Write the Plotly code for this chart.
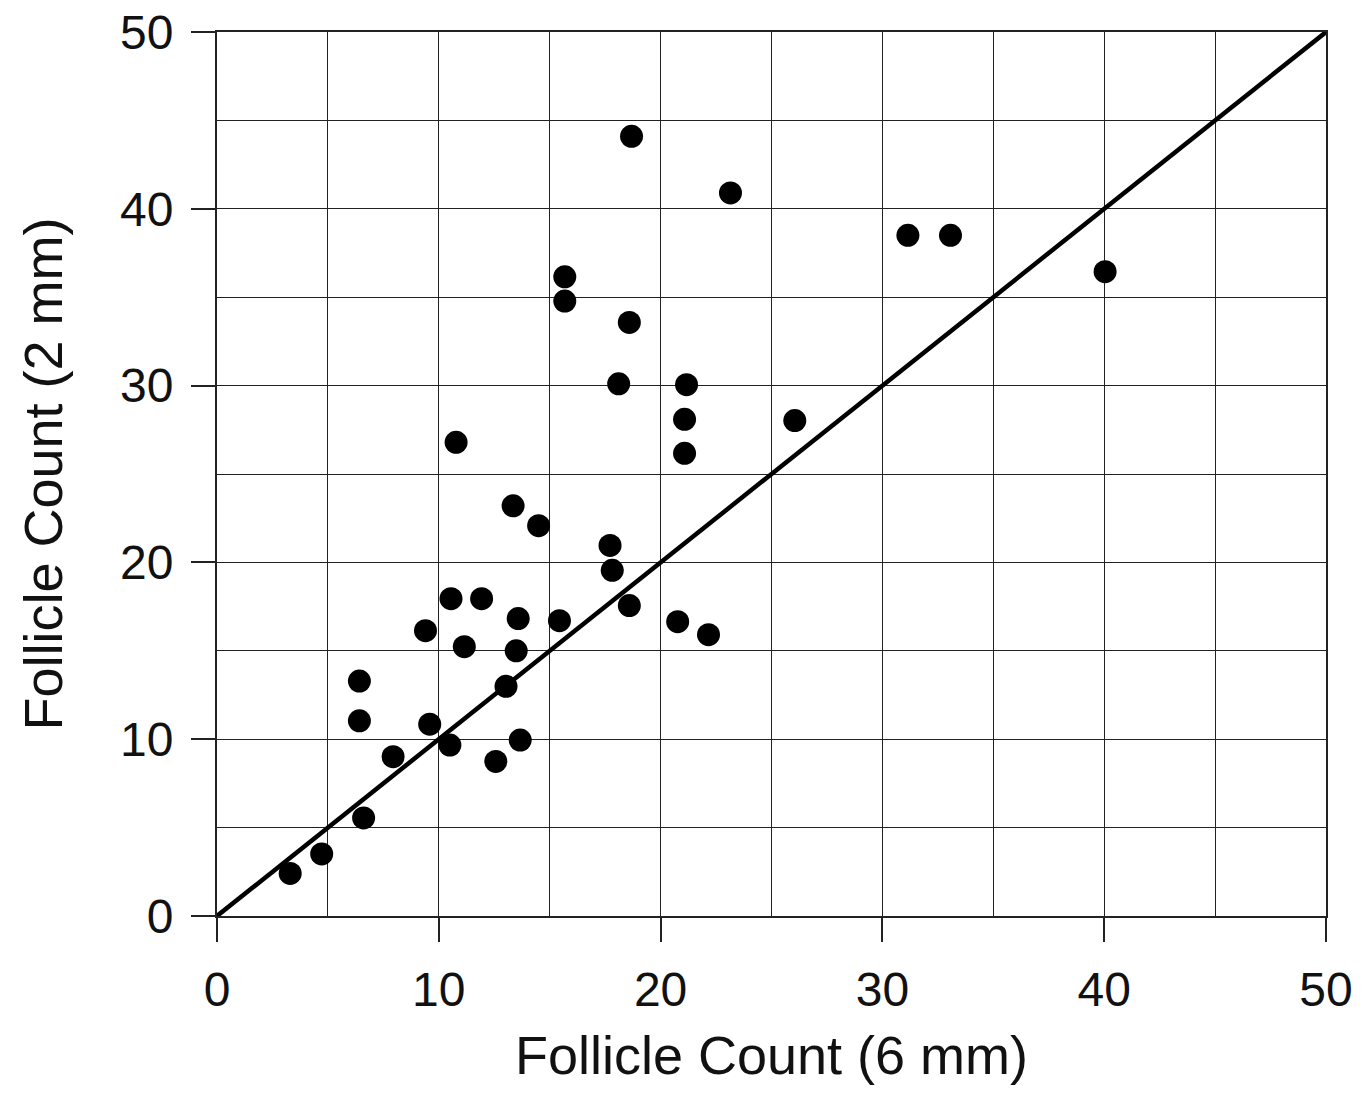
import plotly.graph_objects as go

# Follicle counts
count_6mm = [3.30, 4.72, 6.61, 6.42, 6.42, 7.94, 9.59, 9.40, 10.50, 10.55,
             10.78, 11.15, 11.93, 12.57, 13.03, 13.35, 13.49, 13.58, 13.67, 14.50,
             15.44, 15.68, 15.68, 17.72, 17.82, 18.11, 18.59, 18.59, 18.69, 20.77,
             21.08, 21.08, 21.17, 22.16, 23.15, 26.05, 31.15, 33.07, 40.04]
count_2mm = [2.41, 3.51, 5.55, 13.29, 11.04, 9.01, 10.85, 16.14, 9.67, 17.95,
             26.79, 15.23, 17.95, 8.74, 12.99, 23.20, 15.00, 16.82, 9.95, 22.08,
             16.70, 36.15, 34.78, 20.96, 19.55, 30.10, 17.56, 33.57, 44.10, 16.65,
             26.17, 28.09, 30.05, 15.91, 40.90, 28.02, 38.50, 38.50, 36.44]

identity_x = [0, 50]
identity_y = [0, 50]

tick_vals = [0, 10, 20, 30, 40, 50]
x_title = "Follicle Count (6 mm)"
y_title = "Follicle Count (2 mm)"

FONT = "Liberation Sans, Arial, sans-serif"

fig = go.Figure()
fig.add_trace(go.Scatter(
    x=identity_x, y=identity_y, mode="lines",
    line=dict(color="black", width=4.5), showlegend=False, hoverinfo="skip"))
fig.add_trace(go.Scatter(
    x=count_6mm, y=count_2mm, mode="markers",
    marker=dict(color="black", size=23, line=dict(width=0)), showlegend=False))

axis_common = dict(
    range=[0, 50], tickvals=tick_vals, ticks="outside", ticklen=24, tickwidth=1.5,
    tickcolor="#222", showgrid=True, gridcolor="#222", gridwidth=1.3,
    minor=dict(dtick=5, tick0=0, showgrid=True, gridcolor="#222", gridwidth=1.3, ticks=""),
    showline=True, linecolor="#222", linewidth=2, mirror=True, zeroline=False,
    tickfont=dict(family=FONT, size=48, color="#111"),
    ticklabeloverflow="allow",
    fixedrange=True,
)

fig.update_layout(
    width=1366, height=1096,
    margin=dict(l=217, r=40, t=32, b=180, autoexpand=False),
    paper_bgcolor="white", plot_bgcolor="white",
    xaxis=dict(**axis_common, title=dict(text=x_title, font=dict(family=FONT, size=54, color="#111"), standoff=22),
               ticklabelstandoff=6),
    yaxis=dict(**axis_common, title=dict(text=y_title, font=dict(family=FONT, size=54, color="#111"), standoff=40),
               ticklabelstandoff=8),
)

fig.write_html("out.html")
